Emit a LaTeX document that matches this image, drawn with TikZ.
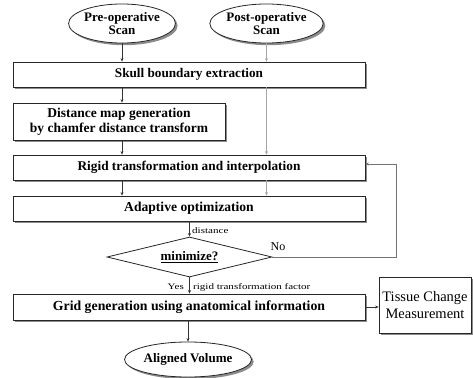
\documentclass[tikz,border=0pt]{standalone}
\usepackage{fontspec}
\setmainfont{Liberation Serif}
\newfontfamily\tagfont[FakeStretch=1.3]{Liberation Serif}
\usetikzlibrary{shapes.geometric,shadows,arrows.meta}
\begin{document}
\begin{tikzpicture}[x=1pt,y=-1pt,
  shade/.style={drop shadow={shadow xshift=2.2pt,shadow yshift=-2.2pt,fill=black!45,opacity=1}},
  stepbox/.style={draw=black!85,line width=0.8pt,fill=white,shade,inner sep=0pt,align=center},
  scan/.style={ellipse,draw=black!85,line width=0.8pt,fill=white,shade,inner sep=0pt,align=center},
  arr/.style={-{Stealth[length=3.5pt,width=3pt]},line width=0.7pt,black!80},
  garr/.style={-{Stealth[length=3.5pt,width=3pt]},line width=0.7pt,black!35},
  tag/.style={font=\tagfont\fontsize{8.5}{9}\selectfont,inner sep=0pt}]
\useasboundingbox (0,0) rectangle (473,377);

% input scans
\node[scan,minimum width=100,minimum height=39,font=\fontsize{13}{12.5}\selectfont\bfseries] (pre) at (122,23.5) {Pre-operative\\Scan};
\node[scan,minimum width=100,minimum height=39,font=\fontsize{13}{12.5}\selectfont\bfseries] (post) at (266.5,23.5) {Post-operative\\Scan};

% processing steps
\node[stepbox,minimum width=352,minimum height=25,font=\fontsize{13.2}{14}\selectfont\bfseries] (skull) at (189,74.5) {Skull boundary extraction};
\node[stepbox,minimum width=212,minimum height=37,font=\fontsize{13.5}{15}\selectfont\bfseries] (dmap) at (119,121.5) {Distance map generation\\by chamfer distance transform};
\node[stepbox,minimum width=352,minimum height=25,font=\fontsize{13.3}{14}\selectfont\bfseries] (rigid) at (189,167.5) {Rigid transformation and interpolation};
\node[stepbox,minimum width=352,minimum height=25,font=\fontsize{13.6}{14}\selectfont\bfseries] (adapt) at (189,208.5) {Adaptive optimization};
\node[diamond,shape aspect=4.125,draw=black!85,line width=0.8pt,fill=white,inner sep=0pt,
  minimum width=165,minimum height=40,font=\fontsize{13}{13}\selectfont\bfseries] (mini) at (189.5,257) {\underline{minimize?}};
\node[stepbox,minimum width=352,minimum height=26,font=\fontsize{13.8}{14}\selectfont\bfseries] (grid) at (189,307) {Grid generation using anatomical information};
\node[draw=black!85,line width=0.8pt,fill=white,shade,inner sep=0pt,minimum width=92,minimum height=56,
  align=center,font=\fontsize{14.5}{17}\selectfont] (tissue) at (425,305) {Tissue Change\\Measurement};
\node[scan,minimum width=127,minimum height=35,font=\fontsize{13}{13}\selectfont\bfseries] (aligned) at (188,359.5) {Aligned Volume};

% pre-operative path
\draw[arr] (pre.south) -- (pre.south |- skull.north);
\draw[arr] (skull.south -| pre) -- (dmap.north -| pre);
\draw[arr] (dmap.south -| pre) -- (rigid.north -| pre);
\draw[arr] (rigid.south -| pre) -- (adapt.north -| pre);

% post-operative path
\draw[garr] (post.south) -- (post.south |- skull.north);
\draw[garr] (skull.south -| post) -- (rigid.north -| post);
\draw[garr] (rigid.south -| post) -- (adapt.north -| post);

% optimisation loop
\draw[arr] (adapt.south -| mini) -- (mini.north);
\node[tag,anchor=west] (dlab) at (192,231) {distance};
\coordinate (loop) at (396,257);
\draw[garr,black!55] (mini.east) -- (loop) -- (loop |- 0,164) -- (rigid.east |- 0,164);
\node[font=\fontsize{12}{12}\selectfont,inner sep=0pt] (nolab) at (278,247) {No};

\draw[arr] (mini.south) -- (grid.north -| mini);
\node[tag,anchor=east] (yeslab) at (184,287) {Yes};
\node[tag,anchor=west] (flab) at (193,287) {rigid transformation factor};

\draw[arr] (grid.east) -- (tissue.west |- grid.east);
\draw[arr] (grid.south -| aligned) -- (aligned.north);
\end{tikzpicture}
\end{document}
